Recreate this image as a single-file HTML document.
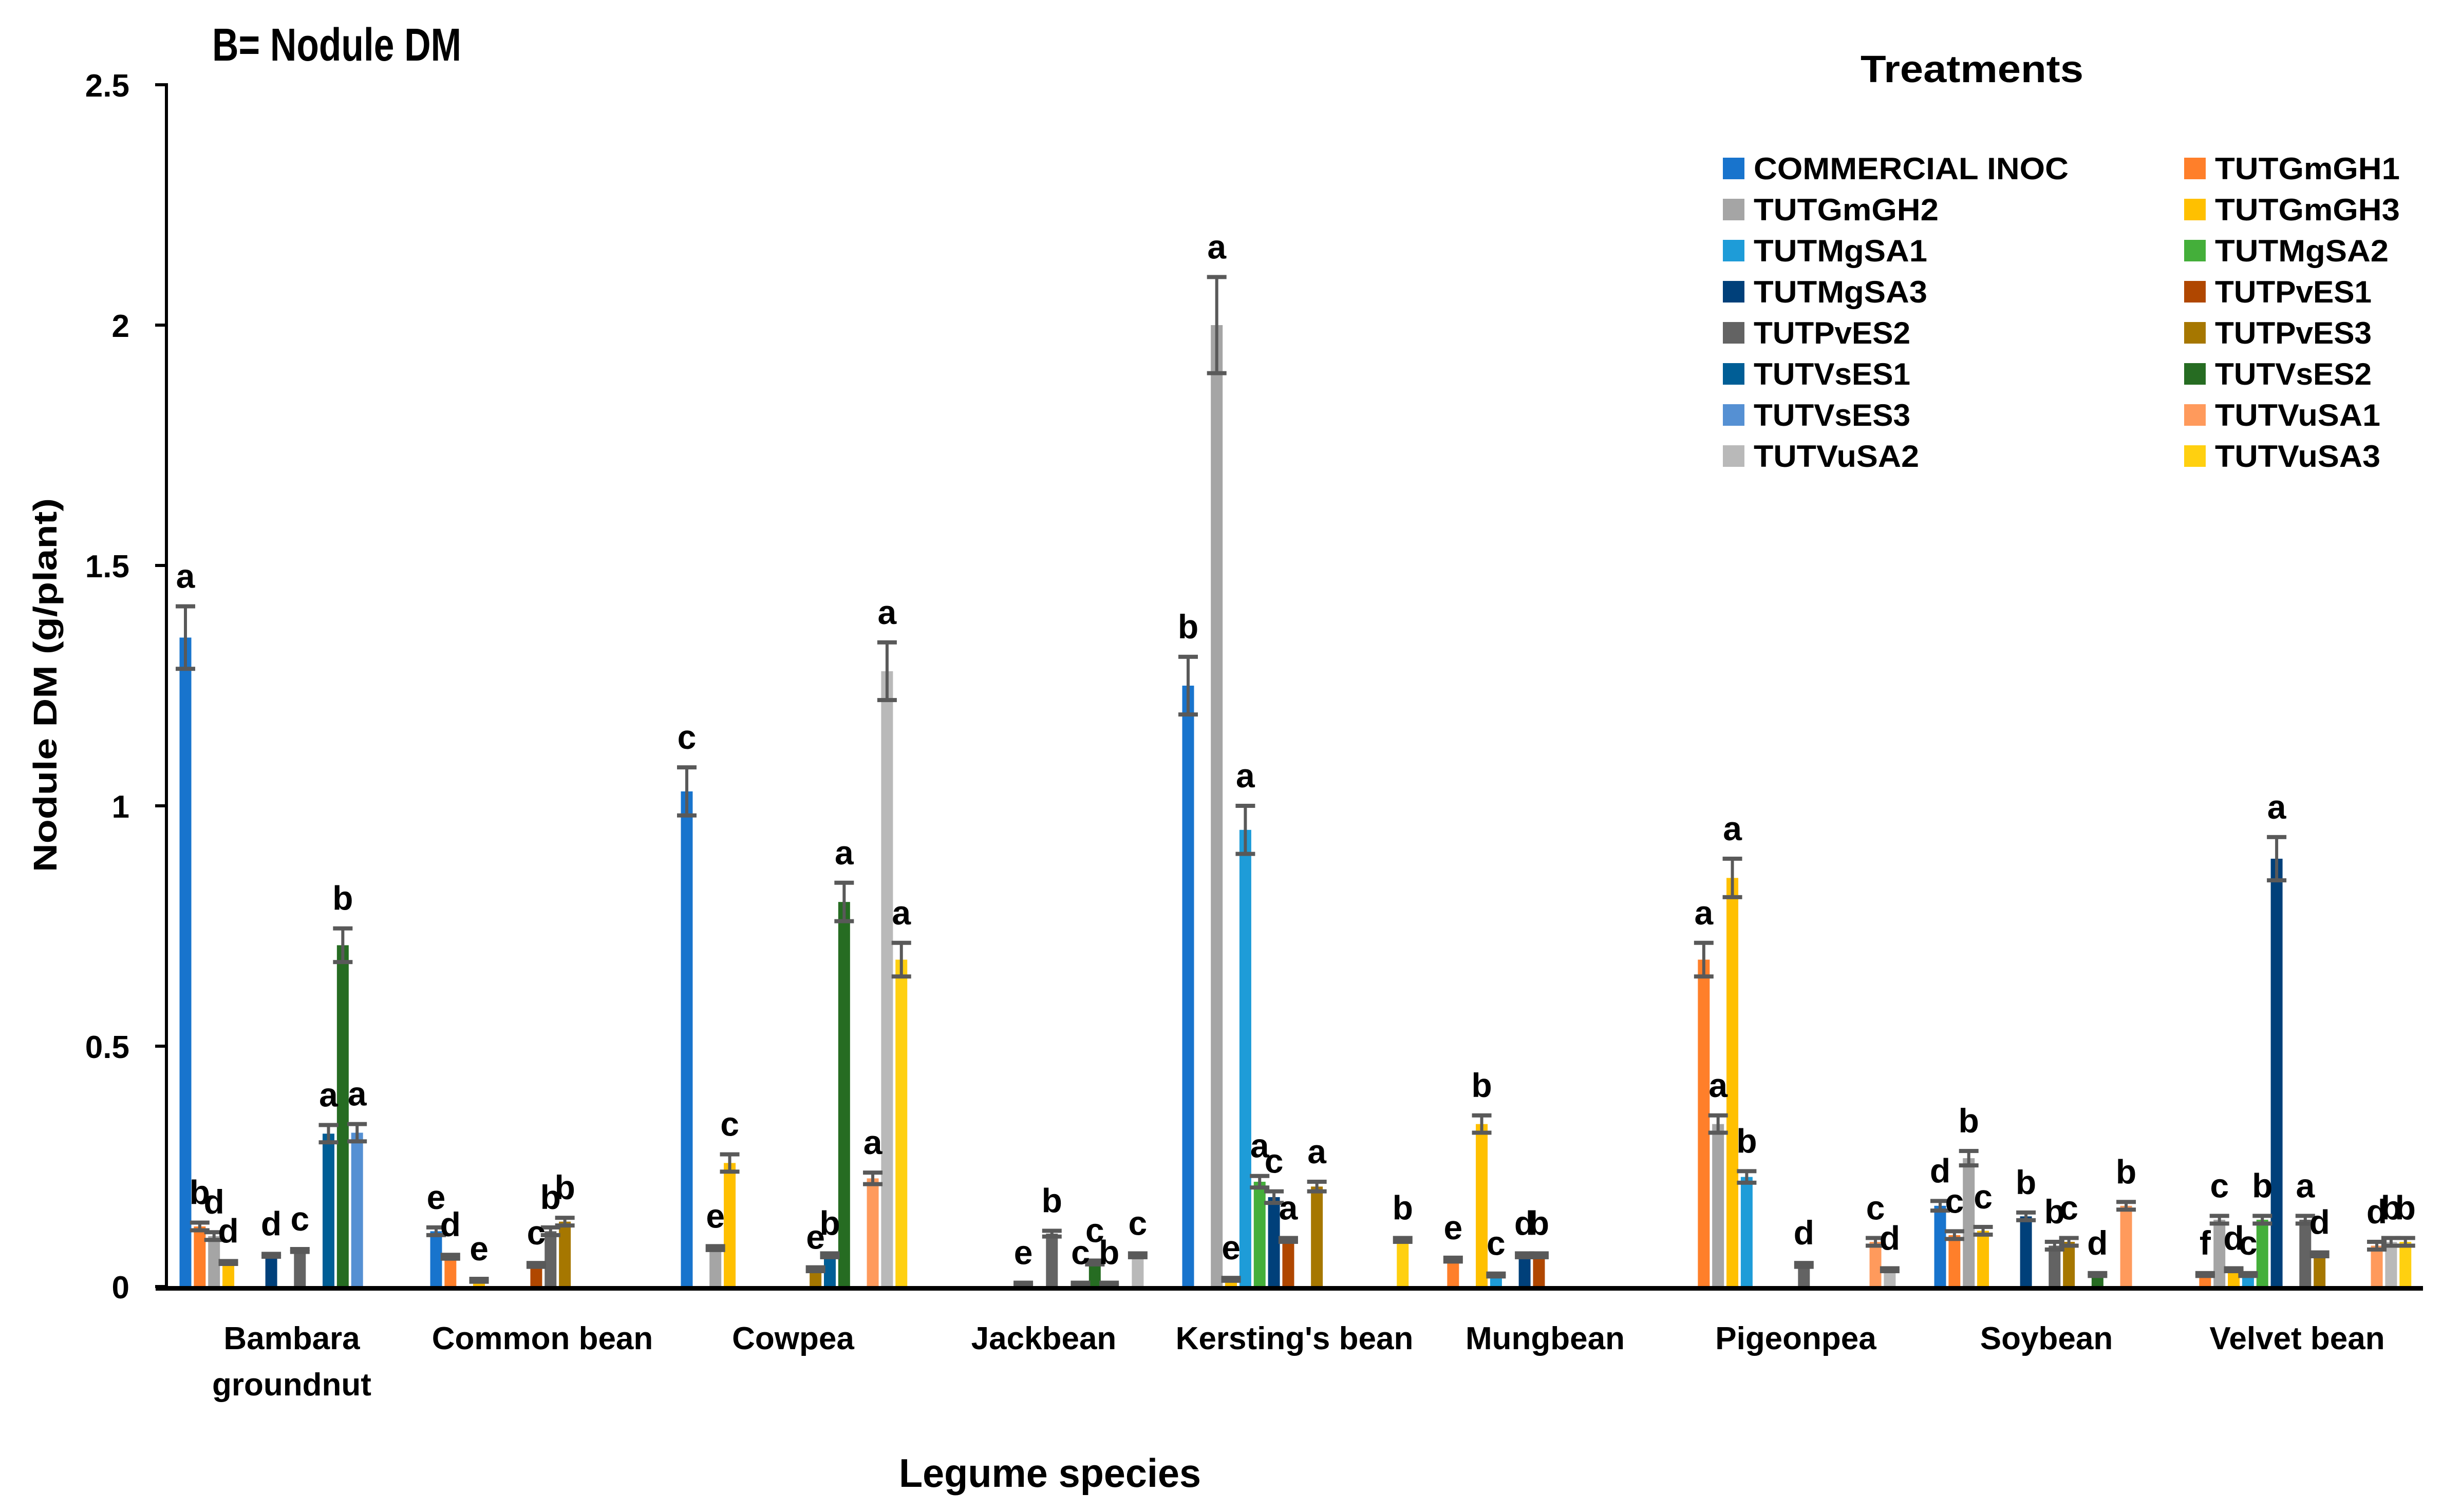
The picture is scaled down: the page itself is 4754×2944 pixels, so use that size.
<!DOCTYPE html>
<html><head><meta charset="utf-8"><style>
html,body{margin:0;padding:0;background:#fff;}
svg{display:block;}
text{font-family:"Liberation Sans",sans-serif;}
</style></head><body>
<svg id="chart" xmlns="http://www.w3.org/2000/svg" width="4754" height="2944" viewBox="0 0 4754 2944">
<rect x="0" y="0" width="4754" height="2944" fill="#fff"/>
<text x="413" y="118" font-size="90" font-weight="bold" textLength="485" lengthAdjust="spacingAndGlyphs">B= Nodule DM</text>
<g id="bars"></g>
<g id="errs"></g>
<g id="lbls"></g>
<g id="axes"></g>
<text transform="translate(110,1334) rotate(-90)" text-anchor="middle" font-size="64" font-weight="bold" textLength="728" lengthAdjust="spacingAndGlyphs">Nodule DM (g/plant)</text>
<text x="2044" y="2895" text-anchor="middle" font-size="78" font-weight="bold" textLength="588" lengthAdjust="spacingAndGlyphs">Legume species</text>
<text x="3839" y="160" text-anchor="middle" font-size="74" font-weight="bold" textLength="434" lengthAdjust="spacingAndGlyphs">Treatments</text>
<g id="legend"></g>
</svg>
<script>
const categories = ["Bambara|groundnut","Common bean","Cowpea","Jackbean","Kersting's bean","Mungbean","Pigeonpea","Soybean","Velvet bean"];
const seriesNames = ["COMMERCIAL INOC","TUTGmGH1","TUTGmGH2","TUTGmGH3","TUTMgSA1","TUTMgSA2","TUTMgSA3","TUTPvES1","TUTPvES2","TUTPvES3","TUTVsES1","TUTVsES2","TUTVsES3","TUTVuSA1","TUTVuSA2","TUTVuSA3"];
const seriesColors = ["#1874CD","#FF7F2A","#A5A5A5","#FFC000","#1E9CD8","#44AF3A","#00407A","#B04700","#636363","#A67700","#005E96","#266C22","#5590D3","#FF9A5C","#B9B9B9","#FFD010"];
const yTicks = [0,0.5,1,1.5,2,2.5];
const yTickLabels = ["0","0.5","1","1.5","2","2.5"];
const valBambara    = [1.35,0.125,0.105,0.05,0,0,0.065,0,0.075,0,0.318,0.71,0.32,0,0,0];
const valCommonBean = [0.115,0.062,0,0.013,0,0,0,0.045,0.115,0.135,0,0,0,0,0,0];
const valCowpea     = [1.03,0,0.08,0.257,0,0,0,0,0,0.036,0.065,0.80,0,0.225,1.28,0.68];
const valJackbean   = [0,0,0,0,0,0,0.005,0,0.11,0,0.005,0.05,0.005,0,0.065,0];
const valKersting   = [1.25,0,2.0,0.015,0.95,0.218,0.186,0.097,0,0.208,0,0,0,0,0,0.097];
const valMungbean   = [0,0.056,0,0.338,0.024,0,0.065,0.065,0,0,0,0,0,0,0,0];
const valPigeonpea  = [0,0.68,0.338,0.85,0.228,0,0,0,0.045,0,0,0,0,0.093,0.035,0];
const valSoybean    = [0.168,0.107,0.267,0.116,0,0,0.146,0,0.085,0.093,0,0.025,0,0.168,0,0];
const valVelvet     = [0,0.025,0.139,0.035,0.025,0.139,0.89,0,0.139,0.067,0,0,0,0.085,0.093,0.093];
const errBambara    = [0.065,0.008,0.008,0.003,0,0,0.003,0,0.003,0,0.018,0.035,0.018,0,0,0];
const errCommonBean = [0.008,0.004,0,0.003,0,0,0,0.004,0.008,0.008,0,0,0,0,0,0];
const errCowpea     = [0.05,0,0.004,0.018,0,0,0,0,0,0.004,0.004,0.04,0,0.012,0.06,0.035];
const errJackbean   = [0,0,0,0,0,0,0.003,0,0.006,0,0.003,0.004,0.003,0,0.004,0];
const errKersting   = [0.06,0,0.1,0.003,0.05,0.012,0.012,0.004,0,0.01,0,0,0,0,0,0.004];
const errMungbean   = [0,0.004,0,0.018,0.003,0,0.004,0.004,0,0,0,0,0,0,0,0];
const errPigeonpea  = [0,0.035,0.018,0.04,0.012,0,0,0,0.004,0,0,0,0,0.008,0.003,0];
const errSoybean    = [0.01,0.008,0.015,0.008,0,0,0.008,0,0.008,0.008,0,0.003,0,0.008,0,0];
const errVelvet     = [0,0.003,0.008,0.003,0.003,0.008,0.045,0,0.008,0.004,0,0,0,0.008,0.008,0.008];
const lblBambara    = ["a","b","d","d","","","d","","c","","a","b","a","","",""];
const lblCommonBean = ["e","d","","e","","","","c","b","b","","","","","",""];
const lblCowpea     = ["c","","e","c","","","","","","e","b","a","","a","a","a"];
const lblJackbean   = ["","","","","","","e","","b","","c","c","b","","c",""];
const lblKersting   = ["b","","a","e","a","a","c","a","","a","","","","","","b"];
const lblMungbean   = ["","e","","b","c","","d","b","","","","","","","",""];
const lblPigeonpea  = ["","a","a","a","b","","","","d","","","","","c","d",""];
const lblSoybean    = ["d","c","b","c","","","b","","b","c","","d","","b","",""];
const lblVelvet     = ["","f","c","d","c","b","a","","a","d","","","","d","b","b"];

const values = [valBambara,valCommonBean,valCowpea,valJackbean,valKersting,valMungbean,valPigeonpea,valSoybean,valVelvet];
const errors = [errBambara,errCommonBean,errCowpea,errJackbean,errKersting,errMungbean,errPigeonpea,errSoybean,errVelvet];
const letters = [lblBambara,lblCommonBean,lblCowpea,lblJackbean,lblKersting,lblMungbean,lblPigeonpea,lblSoybean,lblVelvet];

const NS = "http://www.w3.org/2000/svg";
const X0 = 324, CATW = 488, OFF = 37, SLOT = 27.85, BW = 23;
const Y0 = 2505, YMAX = 2.5, YTOP = 165;
function yScale(v){ return Y0 - v/YMAX*(Y0-YTOP); }
function xScale(c,i){ return X0 + c*CATW + OFF + i*SLOT; }
function mk(tag, attrs, parent){ const e=document.createElementNS(NS,tag); for(const k in attrs) e.setAttribute(k,attrs[k]); parent.appendChild(e); return e; }

const gb = document.getElementById('bars'), ge = document.getElementById('errs'), gl = document.getElementById('lbls'), ga = document.getElementById('axes'), gleg = document.getElementById('legend');

for(let c=0;c<categories.length;c++){
  for(let i=0;i<seriesNames.length;i++){
    const v = values[c][i]; if(!(v>0)) continue;
    const e = errors[c][i];
    const cx = xScale(c,i);
    const r = mk('rect',{x:cx-BW/2,y:yScale(v),width:BW,height:Y0-yScale(v),fill:seriesColors[i]},gb);
    
    
    const yt = yScale(v+e), yb = yScale(Math.max(0,v-e));
    const eg = mk('g',{},ge);
    
    
    mk('rect',{x:cx-3,y:yt,width:6,height:Math.max(1,yb-yt),fill:'#595959'},eg);
    mk('rect',{x:cx-19,y:yt-4,width:38,height:8,fill:'#595959'},eg);
    mk('rect',{x:cx-19,y:yb-4,width:38,height:8,fill:'#595959'},eg);
    const L = letters[c][i];
    if(L){
      const t = mk('text',{x:cx,y:yt-36,'text-anchor':'middle','font-size':66,'font-weight':'bold',fill:'#000'},gl);
      t.textContent = L;
      
      
    }
  }
  const parts = categories[c].split('|');
  const cxc = X0 + c*CATW + CATW/2;
  parts.forEach((p,k)=>{
    const t = mk('text',{x:cxc,y:2627+k*90,'text-anchor':'middle','font-size':62,'font-weight':'bold'},ga);
    t.textContent = p;
    
    
  });
}
const ya = mk('rect',{x:321,y:YTOP-3,width:6,height:Y0-YTOP+3,fill:'#000'},ga);


const xa = mk('rect',{x:303,y:2504,width:4414,height:9,fill:'#000'},ga);


yTicks.forEach((v,k)=>{
  const y = yScale(v);
  const tk = mk('rect',{x:302,y:y-3,width:22,height:6,fill:'#000'},ga);
  
  
  const t = mk('text',{x:252,y:y+23,'text-anchor':'end','font-size':62,'font-weight':'bold'},ga);
  t.textContent = yTickLabels[k];
  
  
});
const legTextW = {"COMMERCIAL INOC":613,"TUTGmGH1":360,"TUTGmGH2":360,"TUTGmGH3":360,"TUTMgSA1":338,"TUTMgSA2":338,"TUTMgSA3":338,"TUTPvES1":305,"TUTPvES2":305,"TUTPvES3":305,"TUTVsES1":305,"TUTVsES2":305,"TUTVsES3":305,"TUTVuSA1":322,"TUTVuSA2":322,"TUTVuSA3":322};
seriesNames.forEach((n,i)=>{
  const col = i%2, row = Math.floor(i/2);
  const sx = col? 4252 : 3354, ty = 349 + row*80;
  const g = mk('g',{},gleg);
  
  
  mk('rect',{x:sx,y:ty-42,width:42,height:42,fill:seriesColors[i]},g);
  const t = mk('text',{x:sx+60,y:ty,'font-size':60,'font-weight':'bold',textLength:legTextW[n],lengthAdjust:'spacingAndGlyphs'},g);
  t.textContent = n;
});
</script>
</body></html>
